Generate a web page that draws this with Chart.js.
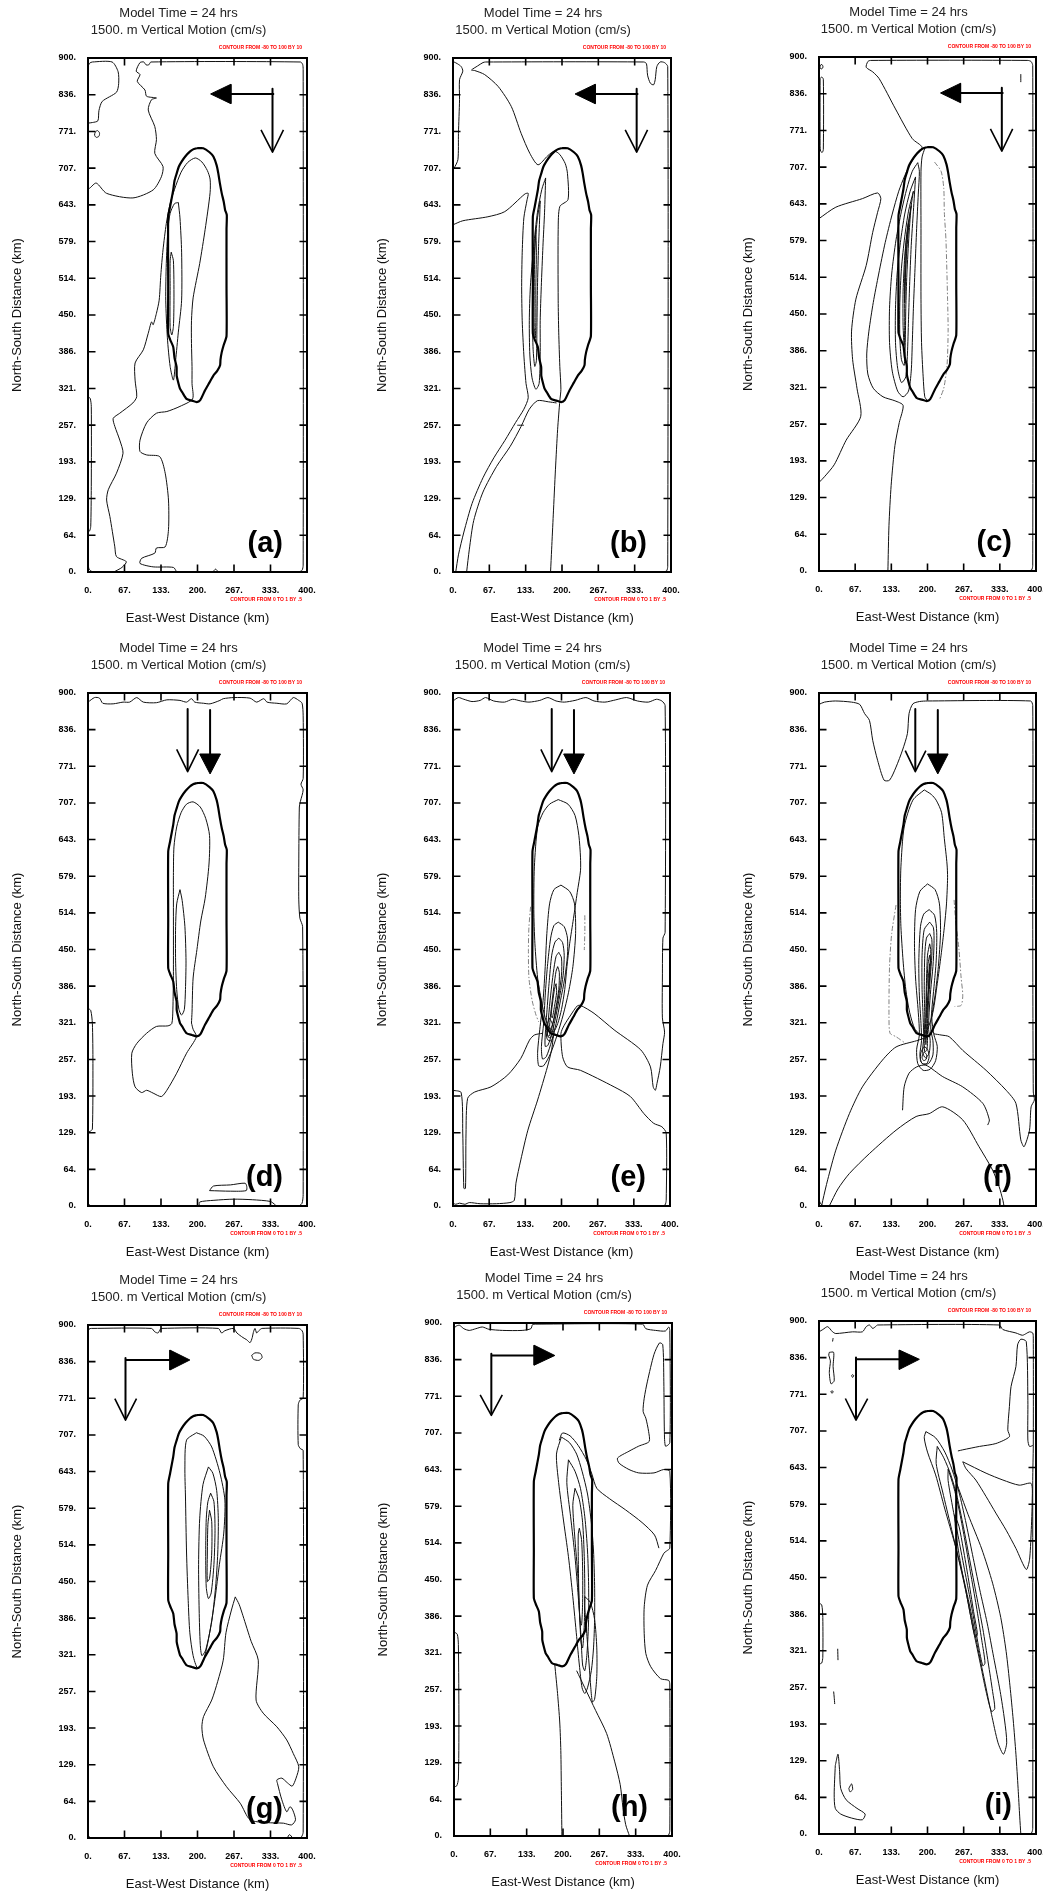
<!DOCTYPE html>
<html><head><meta charset="utf-8">
<script src="https://cdn.jsdelivr.net/npm/chart.js@4.4.1/dist/chart.umd.min.js"></script>
<style>
html,body{margin:0;padding:0;background:#fff;}
body{width:1043px;height:1894px;position:relative;overflow:hidden;}
canvas{position:absolute;}
</style></head><body>
<script>
// ---------- axes / text ----------
const X_TICKS = [0, 66.67, 133.33, 200, 266.67, 333.33, 400];
const X_LABELS = ['0.', '67.', '133.', '200.', '267.', '333.', '400.'];
const Y_TICKS = [0, 64.29, 128.57, 192.86, 257.14, 321.43, 385.71, 450, 514.29, 578.57, 642.86, 707.14, 771.43, 835.71, 900];
const Y_LABELS = ['0.', '64.', '129.', '193.', '257.', '321.', '386.', '450.', '514.', '579.', '643.', '707.', '771.', '836.', '900.'];
const TITLE1 = 'Model Time = 24 hrs';
const TITLE2 = '1500. m Vertical Motion (cm/s)';
const X_TITLE = 'East-West Distance (km)';
const Y_TITLE = 'North-South Distance (km)';
const TOP_NOTE = 'CONTOUR FROM -80 TO 100 BY 10';
const BOTTOM_NOTE = 'CONTOUR FROM 0 TO 1 BY .5';
const LETTERS = ['(a)', '(b)', '(c)', '(d)', '(e)', '(f)', '(g)', '(h)', '(i)'];

// ---------- shared bold contour ----------
const OVAL = [[198.5,742],[210.6,742],[222,735],[229,727.5],[235,712],[238,698],[241,680],[244.3,663],[248,648],[250.4,634],[253.5,625],[253,600],[253,500],[253,413],[248,398],[244.3,385],[242,372],[241.3,362],[236,352],[229,344],[222,332],[213.7,318],[205,301],[198.5,297.5],[190,300],[180,303],[172,315],[168,321],[164,335],[162,344],[161.8,359],[158,375],[155.7,394],[150,407],[146.5,417.5],[146.5,500],[146.5,622],[150,640],[155.7,669],[158,685],[162,698],[166,710],[171,718.7],[178,728],[186,736],[192,740],[198.5,742]];

// ---------- arrows ----------
const TOP_SHAFT_H = [[261,837],[340,837]];
const TOP_HEAD_L = [[224,837],[261,854],[261,820],[224,837]];
const TOP_SHAFT_V = [[337,846],[337,738]];
const TOP_HEAD_V = [[316,774],[337,735],[357,774]];
const MID_OPEN_SHAFT = [[182,872],[182,766]];
const MID_OPEN_HEAD = [[162,801],[182,762],[202,801]];
const MID_FILL_SHAFT = [[223,870],[223,792]];
const MID_FILL_HEAD = [[223,758],[204,793],[242,793],[223,758]];
const F_OPEN_SHAFT = [[177.5,872],[177.5,766]];
const F_OPEN_HEAD = [[159,799],[177.5,762],[197,799]];
const F_FILL_SHAFT = [[219,870],[219,792]];
const F_FILL_HEAD = [[219,758],[200,793],[238,793],[219,758]];
const G_SHAFT_V = [[68.5,842],[68.5,738]];
const G_HEAD_V = [[49,771],[68.5,733],[88.6,771]];
const G_SHAFT_H = [[68.5,838.6],[150,838.6]];
const G_HEAD_R = [[186,838.6],[149.6,856],[149.6,821],[186,838.6]];
const H_SHAFT_V = [[68.5,846],[68.5,742]];
const H_HEAD_V = [[48,774],[68.5,738],[88.6,774]];
const H_SHAFT_H = [[68.5,843],[147,843]];
const H_HEAD_R = [[185,843],[147,861],[147,826],[185,843]];
const I_SHAFT_V = [[68.2,836],[68.2,730]];
const I_HEAD_V = [[48.6,764],[68.2,726],[89.7,764]];
const I_SHAFT_H = [[68.2,832.8],[148,832.8]];
const I_HEAD_R = [[185,832.8],[148,849],[148,815],[185,832.8]];

// ---------- panel (a) ----------
const A_TL = [[0,885],[3,891],[8,893],[44,893],[55,876],[56,855],[52,840],[26,824],[20,808],[18,790],[8,787],[0,786]];
const A_SMALL = [[13,770],[17,773],[21,769],[20,763],[15,761],[12,765],[13,770]];
const A_TOPLINE = [[0,671],[3,672],[15,681],[34,663],[82,655],[119,669],[134,692],[137,710],[122,733],[125,757],[122,780],[110,809],[116,827],[125,830],[107,833],[104,844],[90,859],[95,871],[88,877],[95,892],[102,893],[106,888],[111,888],[115,893],[388,893],[392,889],[393,880],[393,12],[391,3],[385,0]];
const A_CHANNEL = [[47,0],[62,8],[70,18],[52,27],[49,44],[40,97],[34,126],[37,144],[52,173],[64,208],[58,231],[49,255],[46,269],[58,278],[82,296],[89,307],[86,336],[86,366],[101,389],[110,418],[116,438],[119,433],[125,453],[130,476],[133,520],[137,564],[143,610],[150,645],[158,670],[170,700],[182,717],[196,725],[208,718],[218,703],[223,688],[223,664],[214,600],[204,540],[192,480],[189,440],[189,400],[190,360],[190,330],[191,303],[168,290],[144,281],[125,278],[107,261],[95,231],[95,211],[107,205],[131,202],[141,173],[147,126],[147,74],[141,44],[125,42],[122,33],[98,24],[95,15],[119,9],[156,8],[162,0]];
const A_LOOP1 = [[165,647],[168,620],[171,560],[171,476],[165,420],[160,370],[156,336],[150,360],[145,410],[142,476],[143,540],[146,600],[150,628],[158,645],[165,647]];
const A_LOOP2 = [[152,560],[156,545],[157,480],[156,430],[153,415],[150,430],[150,500],[150,545],[152,560]];
const A_LEFTSTRIP = [[0,307],[4,304],[6,290],[6,150],[5,80],[3,72],[0,70]];
const A_BUMP = [[228,0],[233,5],[238,0]];
const A_CORNER = [[0,14],[2,5],[8,0]];

// ---------- panel (b) ----------
const B_TL = [[0,705],[2,707],[9,722],[10,768],[12,827],[12,862],[18,877],[15,885],[8,890],[2,893]];
const B_MAIN = [[179,0],[181,40],[184,100],[188,180],[192,250],[196,300],[198,320],[196,360],[194,420],[193,476],[193,600],[196,640],[211,652],[210,698],[206,715],[196,731],[186,737],[174,729],[156,713],[141,733],[125,768],[107,815],[83,850],[58,871],[40,878],[34,879],[45,886],[55,892],[60,893],[350,893],[355,890],[357,870],[362,856],[368,853],[371,862],[374,885],[380,893],[388,892],[394,885],[394,10],[392,2],[386,0]];
const B_LEFT = [[0,608],[18,615],[64,622],[95,631],[132,662],[138,663],[136,652],[130,620],[127,560],[126,500],[127,440],[130,380],[134,330],[138,305],[130,285],[115,262],[95,230],[75,200],[55,165],[35,120],[20,70],[10,30],[5,0]];
const B_CHAN = [[25,0],[30,40],[38,90],[55,140],[80,185],[105,220],[125,255],[140,285],[155,300],[175,298],[190,296]];
const B_L1 = [[170,690],[163,670],[155,630],[148,570],[142,500],[140,440],[141,380],[145,340],[152,320],[158,330],[160,380],[160,440],[162,500],[165,570],[168,630],[170,690]];
const B_L2 = [[160,650],[155,620],[150,570],[147,500],[146,440],[147,390],[150,360],[153,370],[154,430],[155,500],[157,570],[159,620],[160,650]];
const B_L3 = [[152,600],[150,560],[149,500],[149,430],[151,410],[152,440],[152,500],[153,560],[152,600]];
const B_DASH = [[118,257],[130,257]];

// ---------- panel (c) ----------
const C_CIRCLE = [[2,884],[4,887],[7,885],[7,881],[4,879],[2,881],[2,884]];
const C_STRIP = [[2,862],[5,865],[8,861],[8,738],[6,733],[3,735],[2,745],[2,862]];
const C_MARK = [[372,870],[372,856]];
const C_MAIN = [[386,0],[392,2],[394,10],[394,885],[391,892],[385,894],[95,894],[90,892],[87,882],[99,874],[111,862],[141,809],[172,757],[190,742],[178,728],[168,712],[158,692],[147,665],[135,625],[122,575],[110,520],[100,470],[92,420],[88,380],[90,345],[100,320],[118,305],[140,298],[155,290],[148,260],[140,220],[133,150],[129,80],[127,0]];
const C_LEFT = [[0,617],[31,637],[80,652],[108,662],[114,652],[108,628],[99,593],[87,535],[68,476],[60,420],[62,370],[70,320],[77,271],[50,229],[28,186],[10,165],[0,155]];
const C_L1 = [[182,715],[172,700],[162,670],[152,630],[142,580],[134,520],[130,460],[130,400],[135,350],[145,315],[155,305],[165,315],[170,350],[172,400],[174,460],[177,530],[180,600],[183,660],[185,700],[182,715]];
const C_L2 = [[178,690],[168,665],[158,625],[150,575],[144,520],[141,460],[141,400],[145,355],[152,330],[160,340],[163,380],[165,440],[167,500],[170,570],[174,630],[178,690]];
const C_L3 = [[174,665],[165,630],[158,585],[152,530],[149,470],[149,410],[152,370],[157,360],[159,400],[160,460],[162,520],[166,590],[170,640],[174,665]];
const C_L4 = [[170,640],[163,600],[158,550],[155,490],[155,430],[157,395],[158,430],[158,490],[161,550],[166,610],[170,640]];
const C_L5 = [[165,610],[160,570],[158,520],[158,470],[159,500],[161,560],[165,610]];
const C_CENTER = [[195,740],[190,725],[188,700],[188,600],[188,476],[189,400],[192,340],[195,305],[200,298]];
const C_DASH = [[213,716],[225,700],[230,670],[231,628],[234,580],[237,476],[238,420],[236,360],[230,320],[222,300]];

// ---------- panel (d) ----------
const D_TOP = [[0,884],[12,892],[21,891],[27,882],[46,881],[64,884],[76,884],[89,892],[101,884],[125,883],[144,888],[168,887],[180,884],[189,890],[195,884],[211,882],[223,881],[241,887],[247,890],[266,892],[296,891],[308,884],[321,890],[327,884],[345,882],[363,881],[375,892],[385,887],[391,882],[393,860],[393,750],[389,740],[393,730],[388,710],[386,700],[385,600],[385,537],[387,505],[392,490],[393,20],[391,5],[386,0]];
const D_MAIN = [[189,321],[190,340],[192,400],[199,450],[206,500],[214,540],[221,600],[222,650],[215,680],[205,700],[192,709],[180,705],[170,690],[162,665],[157,630],[156,580],[156,537],[156,411],[155,344],[153,320],[146,316],[125,315],[107,303],[89,285],[80,268],[81,233],[86,209],[98,199],[107,203],[119,198],[134,192],[144,203],[162,233],[180,268],[198,297],[192,310],[189,321]];
const D_IN2 = [[168,555],[172,536],[177,490],[179,430],[178,380],[176,345],[171,335],[166,345],[162,380],[160,430],[160,490],[162,530],[168,555]];
const D_LEFT = [[0,347],[5,343],[8,320],[9,250],[8,135],[4,131],[0,130]];
const D_BOT = [[203,0],[204,7],[230,10],[266,12],[300,11],[333,8],[342,2],[344,0]];
const D_LOOP = [[222,27],[229,35],[260,37],[287,40],[290,34],[289,27],[260,26],[222,27]];
const D_CORNER = [[0,6],[3,1],[6,0]];

// ---------- panel (e) ----------
const E_TOP = [[0,886],[10,892],[20,889],[35,885],[50,887],[60,892],[75,886],[95,884],[110,889],[125,886],[140,884],[160,887],[175,892],[190,886],[205,884],[225,887],[245,892],[260,886],[280,884],[300,888],[320,892],[340,886],[360,884],[375,889],[385,886],[391,878],[391,480],[387,470],[386,400],[386,330],[390,305],[387,285],[382,244],[376,215],[373,203],[369,209],[364,244],[346,274],[297,309],[260,338],[235,352],[229,351],[217,335],[205,317],[199,303],[202,262],[211,244],[235,238],[297,209],[327,192],[352,162],[370,145],[385,139],[393,128],[393,10],[391,2],[386,0]];
const E_LEFT = [[0,203],[15,199],[18,128],[20,31],[23,31],[24,128],[27,189],[40,200],[70,209],[101,230],[125,259],[141,291],[150,300],[165,303]];
const E_L2 = [[185,300],[182,275],[174,244],[156,186],[138,133],[125,81],[116,40],[113,10],[105,6],[80,4],[50,4],[30,6],[22,3],[12,5],[5,3],[0,5]];
const E_OVAL2 = [[194,713],[212,705],[225,685],[232,650],[235,612],[235,588],[229,550],[222,504],[215,460],[210,420],[206,380],[200,345],[193,320],[185,305],[178,310],[170,330],[163,360],[156,400],[151,460],[149,520],[150,595],[156,665],[166,690],[178,705],[194,713]];
const E_C3 = [[199,563],[215,552],[224,530],[226,478],[221,420],[213,375],[203,335],[192,300],[180,268],[167,246],[158,246],[156,270],[160,310],[166,360],[170,420],[173,478],[178,530],[186,555],[199,563]];
const E_C4 = [[194,498],[205,490],[211,470],[211,440],[206,400],[198,360],[190,320],[182,290],[172,262],[165,258],[163,280],[167,320],[170,370],[174,420],[180,470],[186,492],[194,498]];
const E_C5 = [[195,470],[202,462],[205,440],[203,405],[197,370],[190,335],[183,305],[175,282],[170,280],[170,300],[173,340],[177,390],[182,440],[188,463],[195,470]];
const E_C6 = [[195,445],[200,435],[200,405],[195,370],[189,340],[183,315],[177,298],[174,300],[176,330],[180,370],[185,410],[190,438],[195,445]];
const E_C7 = [[193,420],[196,410],[195,380],[190,350],[185,325],[180,310],[178,315],[181,345],[186,385],[190,412],[193,420]];
const E_C8 = [[190,390],[191,375],[187,350],[183,330],[181,335],[184,360],[187,380],[190,390]];
const E_C9 = [[178,330],[185,315],[186,300],[181,290],[174,292],[172,305],[174,320],[178,330]];
const E_C10 = [[176,315],[181,305],[180,295],[175,297],[174,307],[176,315]];
const E_DASHL = [[143,525],[140,490],[139,450],[140,400],[146,360],[153,335],[158,323]];
const E_DASHR = [[243,510],[243,480],[242,449]];

// ---------- panel (f) ----------
const F_TOP = [[0,880],[10,884],[30,886],[60,884],[75,880],[84,864],[93,852],[99,817],[108,782],[120,747],[130,747],[142,770],[154,800],[163,829],[166,864],[173,881],[185,885],[200,886],[390,886],[394,878],[394,500],[395,200],[397,186],[391,174],[388,133],[378,104],[372,116],[363,180],[345,203],[308,238],[265,273],[240,297],[225,300],[212,302]];
const F_LEFTOUT = [[205,298],[180,290],[142,279],[117,256],[80,209],[56,162],[31,98],[16,46],[7,10],[5,0]];
const F_ARCH1 = [[154,168],[157,209],[166,233],[180,244],[197,247],[228,227],[265,209],[302,180],[314,151],[311,142]];
const F_ARCH2 = [[19,0],[35,30],[56,57],[93,92],[142,133],[179,157],[203,162],[228,174],[265,151],[295,104],[320,63],[332,34],[339,10],[341,0]];
const F_OVAL2 = [[194,730],[207,722],[216,712],[226,690],[231,645],[236,600],[237,576],[235,530],[231,489],[225,440],[218,390],[210,340],[200,310],[190,300],[177,310],[167,340],[160,380],[155,430],[151,490],[150,540],[151,595],[157,665],[173,712],[194,730]];
const F_C3 = [[200,565],[214,555],[222,530],[224,480],[220,420],[214,370],[208,330],[212,300],[218,280],[215,255],[205,240],[192,238],[182,250],[180,275],[185,300],[183,340],[178,400],[176,460],[178,520],[186,552],[200,565]];
const F_C4 = [[203,520],[213,510],[217,480],[216,430],[212,385],[208,345],[206,310],[210,290],[210,265],[202,250],[190,250],[186,265],[189,290],[188,320],[185,370],[184,430],[187,490],[193,512],[203,520]];
const F_C5 = [[204,498],[211,488],[212,460],[210,420],[206,380],[203,340],[202,310],[205,290],[203,268],[196,260],[191,270],[193,295],[192,330],[190,380],[190,440],[194,485],[204,498]];
const F_C6 = [[204,478],[208,468],[208,440],[205,400],[202,360],[200,320],[200,295],[199,275],[195,270],[194,290],[195,330],[194,380],[195,440],[198,470],[204,478]];
const F_C7 = [[204,460],[206,450],[205,420],[202,380],[199,340],[198,300],[197,283],[196,300],[197,340],[198,390],[200,440],[204,460]];
const F_C8 = [[204,440],[205,430],[203,400],[200,360],[199,330],[198,345],[199,390],[201,425],[204,440]];
const F_C9 = [[204,425],[204,405],[202,380],[201,395],[203,415],[204,425]];
const F_C10 = [[194,280],[200,275],[203,262],[199,250],[192,249],[187,255],[188,270],[194,280]];
const F_C11 = [[194,270],[198,266],[198,258],[193,255],[190,260],[191,266],[194,270]];
const F_DASHL = [[142,528],[134,478],[130,420],[129,332],[131,303],[142,297],[160,285]];
const F_DASHR = [[249,537],[252,500],[258,450],[262,400],[265,370],[262,352],[250,350]];
const F_CORNER = [[0,10],[4,3],[8,0]];

// ---------- panel (g) ----------
const G_TOP = [[0,888],[2,893],[6,894],[116,894],[122,888],[128,886],[131,891],[134,894],[238,894],[244,886],[250,890],[266,894],[272,886],[283,878],[290,874],[296,869],[300,878],[302,887],[305,894],[308,886],[312,890],[318,894],[385,894],[391,890],[393,884],[393,772],[387,768],[384,760],[384,690],[388,683],[393,680],[393,10],[390,2],[386,0]];
const G_SMALL = [[299,847],[305,851],[315,850],[318,843],[312,838],[302,840],[299,847]];
const G_TAIL = [[269,423],[262,400],[252,360],[247,312],[237,275],[226,242],[211,213],[208,195],[211,172],[229,125],[253,90],[278,61],[296,32],[327,27],[357,26],[372,23],[379,32],[374,49],[369,55],[363,46],[354,67],[346,96],[345,102],[354,105],[364,97],[373,91],[380,105],[385,125],[375,148],[363,172],[345,195],[320,219],[307,242],[311,312],[298,345],[283,390],[276,410],[269,423]];
const G_IN1 = [[198,711],[212,705],[226,686],[241,640],[250,593],[248,535],[240,480],[232,420],[224,370],[216,330],[208,305],[200,298],[192,320],[186,360],[183,417],[180,500],[178,600],[177,651],[180,698],[198,711]];
const G_IN2 = [[220,651],[228,640],[235,610],[238,560],[237,500],[233,440],[226,380],[215,330],[208,320],[205,340],[203,400],[202,480],[204,560],[210,620],[220,651]];
const G_IN3 = [[224,605],[230,590],[232,540],[230,480],[225,430],[220,420],[216,440],[215,500],[216,560],[219,590],[224,605]];
const G_IN4 = [[222,575],[226,555],[226,500],[222,455],[218,450],[218,500],[219,550],[222,575]];
const G_BUMP = [[364,0],[368,6],[374,0]];
const G_CORNER = [[0,6],[3,1],[7,0]];

// ---------- panel (h) ----------
const H_TOP = [[0,890],[3,894],[10,896],[18,890],[28,887],[40,890],[52,893],[64,889],[89,887],[125,887],[141,890],[144,897],[150,898],[346,898],[352,890],[370,887],[388,886],[394,893],[396,887],[396,690],[388,684],[386,710],[385,798],[383,862],[377,865],[367,845],[355,798],[349,768],[347,745],[352,733],[357,710],[358,692],[339,684],[321,675],[300,663],[303,654],[321,643],[339,637],[367,637],[385,643],[396,640],[396,505],[390,500],[385,496],[370,466],[355,440],[349,402],[349,355],[352,320],[361,297],[379,276],[394,273],[396,265],[396,10],[394,2],[390,0]];
const H_LEFT = [[0,358],[6,354],[8,336],[9,200],[8,100],[5,88],[0,86]];
const H_2 = [[193,694],[199,707],[213,702],[228,685],[243,660],[253,635],[262,610],[285,592],[315,572],[345,550],[368,528],[376,505]];
const H_IN1 = [[197,700],[212,690],[225,670],[235,640],[245,600],[252,550],[256,500],[258,440],[258,380],[256,330],[252,290],[245,260],[240,250],[235,260],[230,300],[225,350],[218,420],[210,490],[200,560],[192,620],[188,670],[197,700]];
const H_IN2 = [[210,660],[222,640],[232,610],[240,560],[245,500],[247,440],[247,380],[244,320],[240,290],[236,300],[233,350],[228,420],[222,490],[214,560],[207,620],[210,660]];
const H_IN3 = [[222,610],[230,590],[236,550],[239,490],[240,430],[239,370],[236,330],[233,340],[230,400],[227,460],[222,520],[218,580],[222,610]];
const H_IN4 = [[230,540],[234,520],[236,470],[236,410],[234,370],[231,380],[229,430],[228,490],[228,530],[230,540]];
const H_IN5 = [[240,420],[250,410],[258,380],[262,330],[262,280],[258,240],[254,235],[251,260],[248,300],[244,350],[240,400],[240,420]];
const H_DOWN1 = [[185,300],[190,250],[194,200],[196,150],[197,80],[198,0]];
const H_DOWN2 = [[225,290],[240,260],[260,220],[280,180],[295,130],[305,90],[310,50],[315,20],[322,0]];

// ---------- panel (i) ----------
const I_TOP = [[0,881],[7,885],[16,890],[25,881],[31,878],[62,881],[80,881],[87,890],[93,893],[99,887],[104,890],[108,893],[332,893],[339,885],[363,879],[375,875],[382,878],[388,881],[394,879],[395,870],[395,682],[394,620],[394,10],[392,2],[388,0]];
const I_SPIKE = [[256,672],[265,674],[296,680],[326,685],[351,697],[348,709],[351,750],[354,785],[363,820],[366,858],[372,868],[382,864],[385,761],[385,691],[388,680],[395,682]];
const I_WEDGE = [[265,653],[308,633],[339,621],[369,612],[391,615],[393,586],[391,528],[388,481],[382,464],[363,501],[345,533],[326,563],[308,592],[289,621],[271,641],[265,653]];
const I_LOOP = [[19,845],[27,845],[26,820],[28,795],[22,790],[19,810],[21,830],[18,840],[19,845]];
const I_DOT1 = [[60,804],[62,806],[64,804],[62,801],[60,804]];
const I_DOT2 = [[22,776],[24,778],[26,776],[24,773],[22,776]];
const I_MARK = [[25,864],[26,870]];
const I_LEFT = [[0,405],[5,402],[7,380],[7,310],[5,300],[0,298]];
const I_SHORT = [[34.5,325],[35,305]];
const I_2 = [[197,706],[215,695],[232,670],[245,640],[258,600],[270,550],[283,490],[296,430],[310,370],[322,310],[334,250],[342,200],[346,160],[340,140],[330,160],[318,210],[305,270],[292,330],[280,390],[266,450],[250,510],[232,570],[215,630],[200,670],[194,695],[197,706]];
const I_3 = [[218,680],[230,660],[243,630],[255,590],[266,540],[278,480],[290,420],[302,360],[312,300],[320,250],[324,220],[318,215],[308,250],[296,305],[284,360],[272,420],[258,480],[243,540],[228,600],[216,650],[218,680]];
const I_4 = [[238,640],[248,610],[258,570],[268,520],[279,460],[290,400],[300,340],[306,300],[302,295],[294,330],[283,390],[271,450],[259,510],[247,570],[238,620],[238,640]];
const I_5 = [[250,560],[258,540],[266,500],[275,450],[285,390],[292,350],[288,345],[280,380],[270,430],[260,480],[252,530],[250,560]];
const I_LONG = [[252,620],[275,560],[300,500],[320,440],[335,380],[345,320],[352,260],[358,200],[363,140],[367,80],[370,30],[372,0]];
const I_BL1 = [[27,250],[28,240],[29,228]];
const I_BL2 = [[30,120],[35,140],[38,110],[40,80],[50,60],[70,45],[85,35],[80,25],[60,28],[40,35],[30,45],[28,70],[30,120]];
const I_BL3 = [[55,80],[60,88],[62,78],[57,74],[55,80]];

// ---------- layout (pixel boxes of each plot area: left, top, right, bottom) ----------
const PANELS = [
  {box:[88,58,307,572], lines:[[OVAL,'bold'],[A_TL,'thin'],[A_SMALL,'thin'],[A_TOPLINE,'thin'],[A_CHANNEL,'thin'],[A_LOOP1,'thin'],[A_LOOP2,'thin'],[A_LEFTSTRIP,'thin'],[A_BUMP,'thin'],[A_CORNER,'thin'],
     [TOP_SHAFT_H,'shaft'],[TOP_HEAD_L,'fill'],[TOP_SHAFT_V,'shaft'],[TOP_HEAD_V,'head']]},
  {box:[453,58,671,572], lines:[[OVAL,'bold'],[B_TL,'thin'],[B_MAIN,'thin'],[B_LEFT,'thin'],[B_CHAN,'thin'],[B_L1,'thin'],[B_L2,'thin'],[B_L3,'thin'],[B_DASH,'thin'],
     [TOP_SHAFT_H,'shaft'],[TOP_HEAD_L,'fill'],[TOP_SHAFT_V,'shaft'],[TOP_HEAD_V,'head']]},
  {box:[819,57,1036,571], lines:[[OVAL,'bold'],[C_CIRCLE,'thin'],[C_STRIP,'thin'],[C_MARK,'thin'],[C_MAIN,'thin'],[C_LEFT,'thin'],[C_L1,'thin'],[C_L2,'thin'],[C_L3,'thin'],[C_L4,'thin'],[C_L5,'thin'],[C_CENTER,'thin'],[C_DASH,'dash'],
     [TOP_SHAFT_H,'shaft'],[TOP_HEAD_L,'fill'],[TOP_SHAFT_V,'shaft'],[TOP_HEAD_V,'head']]},
  {box:[88,693,307,1206], lines:[[OVAL,'bold'],[D_TOP,'thin'],[D_MAIN,'thin'],[D_IN2,'thin'],[D_LEFT,'thin'],[D_BOT,'thin'],[D_LOOP,'thin'],[D_CORNER,'thin'],
     [MID_OPEN_SHAFT,'shaft'],[MID_OPEN_HEAD,'head'],[MID_FILL_SHAFT,'shaft'],[MID_FILL_HEAD,'fill']]},
  {box:[453,693,670,1206], lines:[[OVAL,'bold'],[E_TOP,'thin'],[E_LEFT,'thin'],[E_L2,'thin'],[E_OVAL2,'thin'],[E_C3,'thin'],[E_C4,'thin'],[E_C5,'thin'],[E_C6,'thin'],[E_C7,'thin'],[E_C8,'thin'],[E_C9,'thin'],[E_C10,'thin'],[E_DASHL,'dash'],[E_DASHR,'dash'],
     [MID_OPEN_SHAFT,'shaft'],[MID_OPEN_HEAD,'head'],[MID_FILL_SHAFT,'shaft'],[MID_FILL_HEAD,'fill']]},
  {box:[819,693,1036,1206], lines:[[OVAL,'bold'],[F_TOP,'thin'],[F_LEFTOUT,'thin'],[F_ARCH1,'thin'],[F_ARCH2,'thin'],[F_OVAL2,'thin'],[F_C3,'thin'],[F_C4,'thin'],[F_C5,'thin'],[F_C6,'thin'],[F_C7,'thin'],[F_C8,'thin'],[F_C9,'thin'],[F_C10,'thin'],[F_C11,'thin'],[F_DASHL,'dash'],[F_DASHR,'dash'],[F_CORNER,'thin'],
     [F_OPEN_SHAFT,'shaft'],[F_OPEN_HEAD,'head'],[F_FILL_SHAFT,'shaft'],[F_FILL_HEAD,'fill']]},
  {box:[88,1325,307,1838], lines:[[OVAL,'bold'],[G_TOP,'thin'],[G_SMALL,'thin'],[G_TAIL,'thin'],[G_IN1,'thin'],[G_IN2,'thin'],[G_IN3,'thin'],[G_IN4,'thin'],[G_BUMP,'thin'],[G_CORNER,'thin'],
     [G_SHAFT_V,'shaft'],[G_HEAD_V,'head'],[G_SHAFT_H,'shaft'],[G_HEAD_R,'fill']]},
  {box:[454,1323,672,1836], lines:[[OVAL,'bold'],[H_TOP,'thin'],[H_LEFT,'thin'],[H_2,'thin'],[H_IN1,'thin'],[H_IN2,'thin'],[H_IN3,'thin'],[H_IN4,'thin'],[H_IN5,'thin'],[H_DOWN1,'thin'],[H_DOWN2,'thin'],
     [H_SHAFT_V,'shaft'],[H_HEAD_V,'head'],[H_SHAFT_H,'shaft'],[H_HEAD_R,'fill']]},
  {box:[819,1321,1036,1834], lines:[[OVAL,'bold'],[I_TOP,'thin'],[I_SPIKE,'thin'],[I_WEDGE,'thin'],[I_LOOP,'thin'],[I_DOT1,'thin'],[I_DOT2,'thin'],[I_MARK,'thin'],[I_LEFT,'thin'],[I_SHORT,'thin'],[I_2,'thin'],[I_3,'thin'],[I_4,'thin'],[I_5,'thin'],[I_LONG,'thin'],[I_BL1,'thin'],[I_BL2,'thin'],[I_BL3,'thin'],
     [I_SHAFT_V,'shaft'],[I_HEAD_V,'head'],[I_SHAFT_H,'shaft'],[I_HEAD_R,'fill']]}
];

const STYLES = {
  bold:  {w:2.2, c:'#000', t:0.2},
  thin:  {w:1,   c:'#111', t:0.25},
  dash:  {w:1,   c:'#808080', t:0.25, dash:[5,2,1.5,2]},
  shaft: {w:2,   c:'#000', t:0},
  head:  {w:1.6, c:'#000', t:0},
  fill:  {w:1,   c:'#000', t:0, fill:true}
};

const LEFT_M = 88, TOP_M = 58, RIGHT_M = 58, BOTTOM_M = 62, TICK = 7.5;
const FONT = '"Liberation Sans", Arial, sans-serif';

function toXY(arr) { return arr.map(p => ({x: p[0], y: p[1]})); }

function makeDataset(pts, styleName) {
  const s = STYLES[styleName];
  return {
    data: toXY(pts), showLine: true, borderColor: s.c, borderWidth: s.w,
    borderDash: s.dash || [], backgroundColor: s.c, fill: s.fill ? 'shape' : false,
    pointRadius: 0, pointHoverRadius: 0, pointHitRadius: 0, tension: s.t,
    borderJoinStyle: 'round', borderCapStyle: 'butt'
  };
}

const framePlugin = {
  id: 'frame',
  afterDatasetsDraw(chart) {
    const {ctx, chartArea: a, scales: {x, y}} = chart;
    ctx.save();
    ctx.strokeStyle = '#000';
    ctx.lineWidth = 1.6;
    ctx.beginPath();
    for (const v of X_TICKS) {
      const px = x.getPixelForValue(v);
      ctx.moveTo(px, a.bottom); ctx.lineTo(px, a.bottom - TICK);
      ctx.moveTo(px, a.top); ctx.lineTo(px, a.top + TICK);
    }
    for (const v of Y_TICKS) {
      const py = y.getPixelForValue(v);
      ctx.moveTo(a.left, py); ctx.lineTo(a.left + TICK, py);
      ctx.moveTo(a.right, py); ctx.lineTo(a.right - TICK, py);
    }
    ctx.stroke();
    ctx.lineWidth = 2;
    ctx.strokeRect(a.left, a.top, a.right - a.left, a.bottom - a.top);
    ctx.restore();
  }
};

function textPlugin(letter) {
  return {
    id: 'panelText',
    afterDraw(chart) {
      const {ctx, chartArea: a} = chart;
      ctx.save();
      const cx = (a.left + a.right) / 2 - 19;
      ctx.fillStyle = '#222';
      ctx.font = '13px ' + FONT;
      ctx.textAlign = 'center';
      ctx.textBaseline = 'middle';
      ctx.fillText(TITLE1, cx, a.top - 45);
      ctx.fillText(TITLE2, cx, a.top - 28);
      ctx.fillStyle = '#ff0000';
      ctx.font = 'bold 5px ' + FONT;
      ctx.textAlign = 'right';
      ctx.fillText(TOP_NOTE, a.right - 5, a.top - 10);
      ctx.fillText(BOTTOM_NOTE, a.right - 5, a.bottom + 28);
      ctx.fillStyle = '#000';
      ctx.font = 'bold 29px ' + FONT;
      ctx.textBaseline = 'alphabetic';
      ctx.fillText(letter, a.right - 24, a.bottom - 20);
      ctx.restore();
    }
  };
}

PANELS.forEach((p, idx) => {
  const [L, T, R, B] = p.box;
  const W = R - L, H = B - T;
  const cv = document.createElement('canvas');
  cv.width = LEFT_M + W + RIGHT_M;
  cv.height = TOP_M + H + BOTTOM_M;
  cv.style.left = (L - LEFT_M) + 'px';
  cv.style.top = (T - TOP_M) + 'px';
  document.body.appendChild(cv);
  new Chart(cv, {
    type: 'scatter',
    data: { datasets: p.lines.map(([pts, st]) => makeDataset(pts, st)) },
    options: {
      responsive: false, animation: false, devicePixelRatio: 1,
      events: [],
      layout: { padding: { left: 0, top: TOP_M, right: RIGHT_M, bottom: 0 } },
      plugins: { legend: { display: false }, tooltip: { enabled: false }, title: { display: false } },
      scales: {
        x: {
          type: 'linear', min: 0, max: 400, position: 'bottom',
          afterBuildTicks: s => { s.ticks = X_TICKS.map(v => ({ value: v })); },
          afterFit: s => { s.height = BOTTOM_M; },
          grid: { display: false, drawTicks: false }, border: { display: false },
          ticks: { autoSkip: false, maxRotation: 0, padding: 13, color: '#000',
                   font: { family: FONT, size: 9, weight: 'bold' },
                   callback: (v, i) => X_LABELS[i] },
          title: { display: true, text: X_TITLE, color: '#111', padding: { top: 0, bottom: 8 },
                   font: { family: FONT, size: 13 } }
        },
        y: {
          type: 'linear', min: 0, max: 900, position: 'left',
          afterBuildTicks: s => { s.ticks = Y_TICKS.map(v => ({ value: v })); },
          afterFit: s => { s.width = LEFT_M; },
          grid: { display: false, drawTicks: false }, border: { display: false },
          ticks: { autoSkip: false, padding: 12, color: '#000',
                   font: { family: FONT, size: 9, weight: 'bold' },
                   callback: (v, i) => Y_LABELS[i] },
          title: { display: true, text: Y_TITLE, color: '#111', padding: { top: 10, bottom: 0 },
                   font: { family: FONT, size: 13 } }
        }
      }
    },
    plugins: [framePlugin, textPlugin(LETTERS[idx])]
  });
});
</script>
</body></html>
